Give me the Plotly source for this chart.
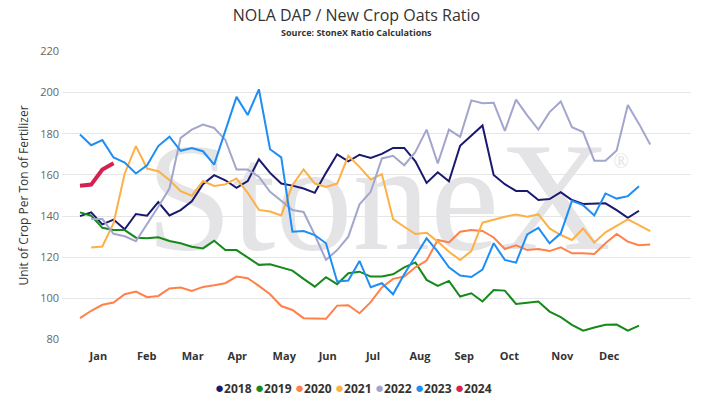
import plotly.graph_objects as go

# week number within the crop year (1 = first week of Jan)
weeks = list(range(1, 53))

months = ["Jan", "Feb", "Mar", "Apr", "May", "Jun",
          "Jul", "Aug", "Sep", "Oct", "Nov", "Dec"]
month_pos = [2.64, 6.97, 11.08, 15.07, 19.27, 23.16,
             27.21, 31.41, 35.37, 39.40, 44.14, 48.34]

years = ["2018", "2019", "2020", "2021", "2022", "2023", "2024"]

ratio_2018 = [140.0, 141.8, 136.0, 138.3, 133.6, 141.0, 140.2, 146.8, 140.3, 142.9,
              147.2, 155.5, 159.9, 157.4, 153.7, 157.0, 167.6, 161.0, 155.8, 154.8,
              153.4, 151.3, 161.0, 170.0, 166.6, 169.8, 168.2, 170.2, 173.1, 173.1,
              166.6, 156.1, 161.3, 156.9, 174.2, 179.0, 184.0, 160.0, 155.5, 152.2,
              152.2, 147.8, 148.3, 151.6, 147.8, 145.9, 146.2, 146.2, 142.9, 139.2,
              142.6, None]
ratio_2019 = [141.8, 140.2, 134.3, 133.2, 133.2, 129.5, 129.2, 129.7, 127.9, 126.8,
              125.1, 124.3, 128.0, 123.5, 123.5, 119.8, 116.3, 116.6, 115.0, 113.5,
              109.5, 105.7, 110.3, 106.9, 112.2, 113.0, 110.6, 110.6, 111.7, 115.1,
              117.5, 109.0, 106.1, 108.5, 100.9, 102.5, 98.5, 104.1, 103.8, 97.3,
              97.9, 98.5, 93.6, 90.9, 87.2, 84.3, 85.9, 87.2, 87.3, 84.3,
              86.8, None]
ratio_2020 = [90.4, 94.0, 96.9, 98.0, 102.0, 103.3, 100.6, 101.2, 104.8, 105.3,
              103.6, 105.6, 106.4, 107.4, 110.6, 109.8, 106.1, 102.0, 96.3, 94.4,
              90.4, 90.1, 90.1, 96.5, 96.7, 92.8, 98.2, 105.3, 109.5, 110.6,
              115.1, 118.4, 128.4, 127.2, 132.4, 133.2, 132.8, 129.6, 124.0, 125.8,
              123.5, 124.0, 123.0, 124.8, 121.9, 121.9, 121.6, 126.8, 131.3, 127.6,
              125.8, 126.2]
ratio_2021 = [None, 124.7, 125.2, 136.5, 160.7, 174.0, 163.1, 161.8, 157.5, 152.1,
              149.9, 157.0, 154.6, 155.4, 158.3, 151.3, 143.0, 142.2, 140.3, 155.0,
              162.7, 155.8, 154.2, 155.8, 169.3, 163.9, 157.8, 160.4, 138.5, 134.8,
              131.3, 131.9, 127.6, 122.7, 118.7, 123.0, 136.8, 138.2, 139.7, 140.8,
              139.7, 140.8, 134.0, 130.8, 128.4, 134.0, 127.2, 132.1, 135.2, 138.4,
              135.6, 132.7]
ratio_2022 = [None, 138.6, 138.6, 131.4, 130.2, 127.8, 136.0, 144.5, 153.4, 178.0,
              182.0, 184.5, 182.8, 177.0, 162.6, 162.6, 159.1, 151.8, 147.5, 142.9,
              142.0, 130.8, 118.7, 123.5, 130.0, 145.7, 151.8, 168.0, 169.3, 164.7,
              171.2, 182.0, 165.6, 182.0, 178.5, 196.2, 194.8, 195.0, 181.4, 196.6,
              188.9, 182.0, 190.5, 195.7, 183.2, 180.8, 166.9, 166.9, 171.9, 194.0,
              184.8, 174.8]
ratio_2023 = [179.6, 174.4, 176.9, 168.5, 166.0, 160.7, 164.7, 174.0, 178.6, 171.7,
              173.1, 171.5, 165.0, 181.4, 197.9, 189.1, 201.6, 172.5, 168.5, 132.4,
              132.7, 130.8, 126.8, 108.2, 108.7, 118.2, 105.4, 107.4, 102.0, 111.7,
              120.6, 129.2, 122.7, 115.1, 111.1, 110.4, 114.0, 126.8, 118.7, 117.4,
              131.1, 134.3, 126.8, 131.6, 147.4, 145.3, 140.3, 151.0, 148.5, 149.7,
              154.5, None]
ratio_2024 = [154.7, 155.3, 162.6, 165.7]

series = [ratio_2018, ratio_2019, ratio_2020, ratio_2021,
          ratio_2022, ratio_2023, ratio_2024]
colors = ["#191970", "#15891a", "#ff8149", "#fdb046",
          "#a3a6cc", "#1e8ef5", "#d4214f"]

FONT = "Open Sans, sans-serif"
WATERMARK = "#e4e4e6"

fig = go.Figure()

# StoneX watermark behind the lines
fig.add_trace(go.Scatter(
    x=[27.7], y=[143], mode="text", text=["StoneX"],
    textfont=dict(family="Liberation Serif, serif", size=155, color=WATERMARK),
    hoverinfo="skip", showlegend=False, cliponaxis=False,
))
fig.add_trace(go.Scatter(
    x=[49.4], y=[166], mode="text", text=["®"],
    textfont=dict(family="Liberation Serif, serif", size=20, color=WATERMARK),
    hoverinfo="skip", showlegend=False, cliponaxis=False,
))

for year, vals, color in zip(years, series, colors):
    fig.add_trace(go.Scatter(
        x=weeks[:len(vals)], y=vals, mode="lines", name=year,
        line=dict(color=color, width=4 if year == "2024" else 2),
        showlegend=False,
    ))

# legend row drawn as text with coloured bullets
annotations = []
for k, (year, color) in enumerate(zip(years, colors)):
    annotations.append(dict(
        xref="paper", yref="paper", x=0.240 + 0.0636 * k, y=-0.1626,
        xanchor="left", yanchor="middle", showarrow=False,
        text=f"<span style='color:{color};font-size:15px'>●</span><b>{year}</b>",
        font=dict(family=FONT, size=12, color="#333333"),
    ))

annotations.append(dict(
    xref="paper", yref="paper", x=0.468, y=1.0657,
    xanchor="center", yanchor="middle", showarrow=False,
    text="<b>Source: StoneX Ratio Calculations</b>",
    font=dict(family=FONT, size=9, color="#333333"),
))

fig.update_layout(
    width=713, height=409,
    margin=dict(l=62, r=22, t=51, b=69),
    paper_bgcolor="white", plot_bgcolor="white",
    font=dict(family=FONT, color="#333333"),
    title=dict(text="NOLA DAP / New Crop Oats Ratio", x=0.5, xref="container",
               y=0.962, yanchor="middle",
               font=dict(family=FONT, size=16, color="#333333")),
    xaxis=dict(range=[-0.61, 55.65], tickvals=month_pos, ticktext=months,
               showgrid=False, zeroline=False, showline=False, ticks="",
               ticklabelstandoff=8,
               tickfont=dict(family=FONT, size=11, color="#333333", weight="bold")),
    yaxis=dict(range=[79.8, 220.2], tickvals=[80, 100, 120, 140, 160, 180, 200, 220],
               gridcolor="#e6e6e6", gridwidth=1, zeroline=False, showline=False,
               ticklabelstandoff=2,
               tickfont=dict(family=FONT, size=11, color="#666666"),
               title=dict(text="Unit of Crop Per Ton of Fertilizer", standoff=8,
                          font=dict(family=FONT, size=12, color="#333333"))),
    annotations=annotations,
    hovermode="x",
)

fig.write_html("out.html", config={"displayModeBar": False},
               post_script="document.body.style.margin = '0';")
